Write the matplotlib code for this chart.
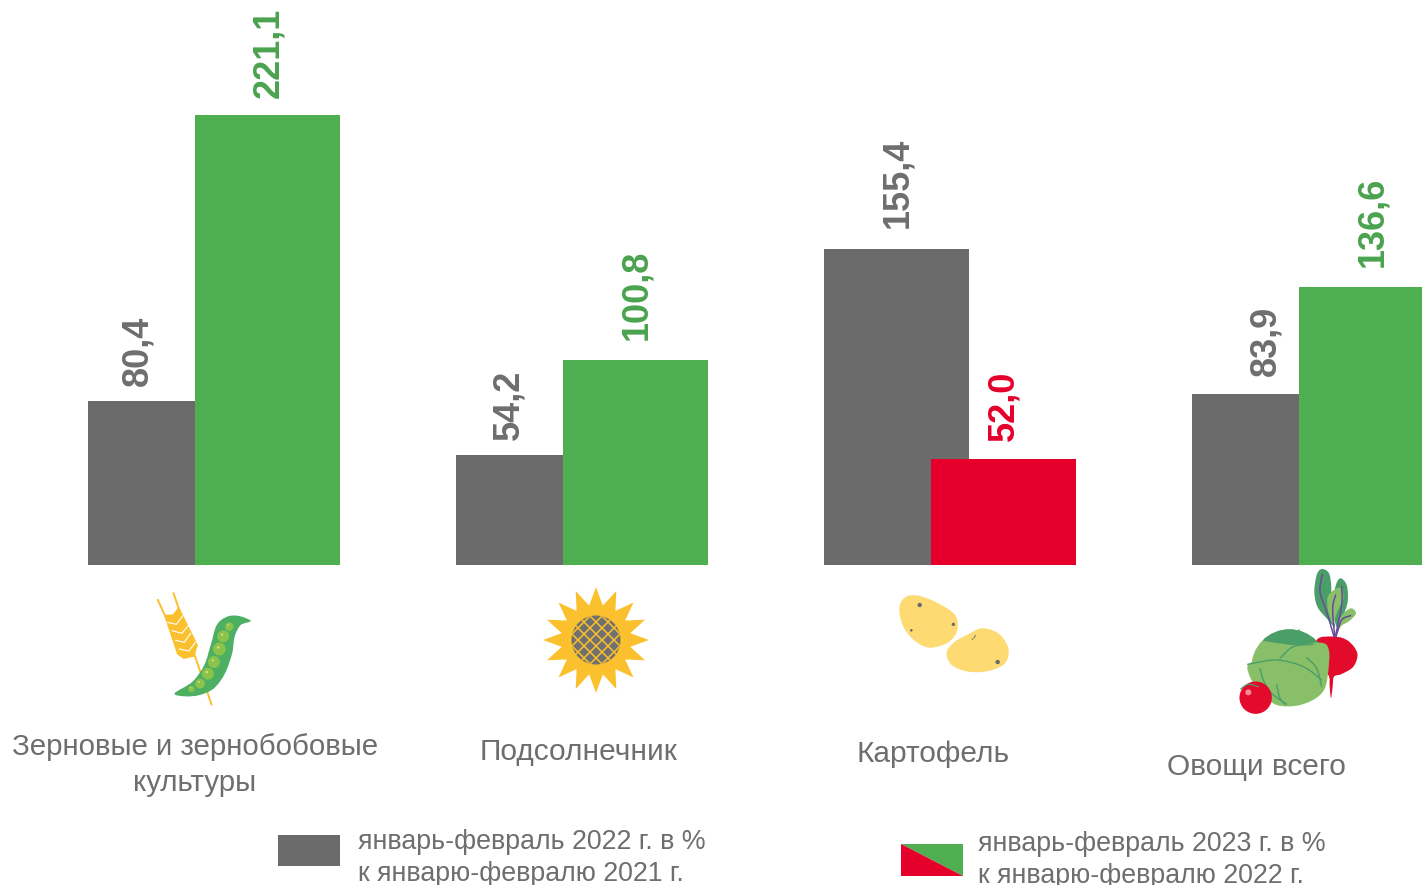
import numpy as np
import matplotlib
matplotlib.use("Agg")
import matplotlib.pyplot as plt
from matplotlib.path import Path
from matplotlib.patches import PathPatch, Circle, Ellipse, Polygon, Rectangle

# ============================================================
# 1. DATA
# ============================================================

categories = ["Зерновые и зернобобовые\nкультуры", "Подсолнечник", "Картофель", "Овощи всего"]
values_2022 = [80.4, 54.2, 155.4, 83.9]
values_2023 = [221.1, 100.8, 52.0, 136.6]
legend_2022 = "январь-февраль 2022 г. в %\nк январю-февралю 2021 г."
legend_2023 = "январь-февраль 2023 г. в %\nк январю-февралю 2022 г."

GRAY = "#6b6b6b"
GREEN = "#4faf50"
RED = "#e4002b"
TEXT_GRAY = "#6e6e6e"
TEXT_GREEN = "#4ba34e"
YELLOW = "#fbc02d"
LEAF = "#8abf6a"
LEAF_DARK = "#4a9f68"
PURPLE = "#6a4a9c"

W, H = 1422, 885
BASELINE = 565
PX_PER_UNIT = 2.035
PITCH = 368
BAR_W = 144.6 / PITCH
BAR_OFF = 107 / PITCH
FIRST_CENTER = 160.3

plt.rcParams["font.family"] = ["Liberation Sans", "DejaVu Sans"]

fig = plt.figure(figsize=(W / 100, H / 100), dpi=100)
fig.patch.set_facecolor("white")

# ============================================================
# 2. BARS
# ============================================================

ax = fig.add_axes([0, 1 - BASELINE / H, 1, BASELINE / H])
ax.set_xlim(-FIRST_CENTER / PITCH, (W - FIRST_CENTER) / PITCH)
ax.set_ylim(0, BASELINE / PX_PER_UNIT)
ax.axis("off")

x = np.arange(len(categories))
ax.bar(x, values_2022, width=BAR_W, color=GRAY, zorder=2)
colors_2023 = [GREEN if v >= 100 else RED for v in values_2023]
ax.bar(x + BAR_OFF, values_2023, width=BAR_W, color=colors_2023, zorder=3)

# подписи значений
gray_dx = [-22, -19, 1, 2]
gray_dy = [15, 15, 21, 18]
green_dy = [17, 20, 18, 20]
for i in x:
    ax.annotate(f"{values_2022[i]:.1f}".replace(".", ","), (i, values_2022[i]),
                xytext=(gray_dx[i], gray_dy[i]), textcoords="offset pixels",
                rotation=90, ha="center", va="bottom", fontsize=26,
                fontweight="bold", color=TEXT_GRAY, annotation_clip=False)
    ax.annotate(f"{values_2023[i]:.1f}".replace(".", ","), (i + BAR_OFF, values_2023[i]),
                xytext=(1, green_dy[i]), textcoords="offset pixels",
                rotation=90, ha="center", va="bottom", fontsize=26,
                fontweight="bold", color=colors_2023[i] if colors_2023[i] == RED else TEXT_GREEN,
                annotation_clip=False)

# ============================================================
# 3. OVERLAY (PIXEL COORDINATES): LABELS, LEGEND, ICONS
# ============================================================

ov = fig.add_axes([0, 0, 1, 1])
ov.set_xlim(0, W)
ov.set_ylim(H, 0)
ov.axis("off")
ov.patch.set_alpha(0)

label_pos = [(195, 765), (578, 752), (933, 754), (1256, 767)]
label_size = [21.2, 21.5, 21.5, 21.5]
for name, (lx, ly), fs in zip(categories, label_pos, label_size):
    ov.text(lx, ly, name, ha="center", va="center", fontsize=fs,
            color=TEXT_GRAY, linespacing=1.36)

ov.add_patch(Rectangle((278, 835), 62, 31, color=GRAY, lw=0))
ov.add_patch(Polygon([(901, 844), (963, 844), (963, 876)], color=GREEN, lw=0))
ov.add_patch(Polygon([(901, 844), (963, 876), (901, 876)], color=RED, lw=0))
for lx, ly, txt in [(358, 858, legend_2022), (978, 860, legend_2023)]:
    ov.text(lx, ly, txt, ha="left", va="center", fontsize=19.3,
            color=TEXT_GRAY, linespacing=1.27)


def blob(points, closed=True):
    # сглаженный контур через точки (Catmull-Rom -> Bezier)
    p = np.array(points, dtype=float)
    n = len(p)
    verts = [p[0]]
    codes = [Path.MOVETO]
    last = n if closed else n - 1
    for i in range(last):
        if closed:
            p0, p1, p2, p3 = p[(i - 1) % n], p[i], p[(i + 1) % n], p[(i + 2) % n]
        else:
            p0, p1, p2, p3 = p[max(i - 1, 0)], p[i], p[i + 1], p[min(i + 2, n - 1)]
        verts += [p1 + (p2 - p0) / 6, p2 - (p3 - p1) / 6, p2]
        codes += [Path.CURVE4] * 3
    return Path(verts, codes)


def z1(pts):
    return [(130 + a / 2.8, 565 + b / 3.0) for a, b in pts]


def z2(pts):
    return [(880 + a / 3.0, 565 + b / 3.0) for a, b in pts]


def fill(pts, color, z=5):
    patch = PathPatch(blob(pts), fc=color, ec="none", zorder=z)
    ov.add_patch(patch)
    return patch


def curve(pts, color, lw=1.0, z=6):
    ov.add_patch(PathPatch(blob(pts, closed=False), fc="none", ec=color, lw=lw, zorder=z,
                           capstyle="round"))


def dots(items, conv, color, z=7):
    for a, b, r in items:
        cx, cy = conv([(a, b)])[0]
        ov.add_patch(Circle((cx, cy), r, fc=color, ec="none", zorder=z))


# --- колос и стручок ---
ov.plot(*zip(*z1([(122, 85), (228, 418)])), color=YELLOW, lw=1.4, zorder=4)
ov.plot(*zip(*z1([(78, 105), (108, 175)])), color=YELLOW, lw=1.4, zorder=4)
ov.add_patch(Polygon(z1([(95, 150), (120, 148), (137, 125), (190, 240), (180, 275),
                         (150, 282), (132, 268)]), fc=YELLOW, ec="none", zorder=4))
for c in [[(105, 172), (130, 178), (148, 152)], [(118, 197), (145, 205), (165, 180)],
          [(128, 226), (152, 232), (170, 205)], [(138, 252), (165, 258), (183, 232)]]:
    ov.plot(*zip(*z1(c)), color="white", lw=0.8, zorder=5)

fill(z1([(125, 385), (175, 350), (208, 300), (226, 240), (243, 180), (272, 155), (305, 153),
         (338, 168), (310, 180), (293, 215), (286, 265), (266, 325), (235, 370), (195, 390),
         (155, 394)]), "#4caf62", 5)
peas = [(278, 185, 4.2), (261, 214, 6.0), (250, 252, 6.4), (235, 291, 6.0),
        (218, 326, 6.0), (196, 356, 4.9), (172, 372, 3.1)]
dots(peas, z1, "#8bc34a")
dots([(a - 3, b - 5, r * 0.2) for a, b, r in peas], z1, "#cfe08a", 8)

# --- подсолнух ---
cx, cy = 596, 640
n_rays = 16
ang = np.linspace(0, 2 * np.pi, 2 * n_rays, endpoint=False) - np.pi / 2
rad = np.where(np.arange(2 * n_rays) % 2 == 0, 53, 35)
ov.add_patch(Polygon(np.c_[cx + rad * np.cos(ang), cy + rad * np.sin(ang)],
                     fc=YELLOW, ec="none", zorder=5))
disk = Circle((cx, cy), 24.5, fc="#707070", ec="none", zorder=6)
ov.add_patch(disk)
for d in np.arange(-42, 43, 12):
    for sign in (1, -1):
        line, = ov.plot([cx + d - 30, cx + d + 30], [cy - sign * 30, cy + sign * 30],
                        color=YELLOW, lw=1.1, zorder=7)
        line.set_clip_path(disk)

# --- картофель ---
POTATO = "#fddb72"
fill(z2([(58, 130), (75, 97), (115, 92), (175, 115), (225, 150), (232, 195), (205, 232),
         (150, 248), (105, 228), (70, 185)]), POTATO)
fill(z2([(200, 262), (225, 230), (265, 208), (305, 190), (355, 205), (385, 250), (375, 295),
         (325, 318), (265, 320), (215, 300)]), POTATO)
dots([(119, 120, 2.2), (220, 178, 1.7), (94, 196, 1.3), (353, 291, 2.2)], z2, "#6b6b6b")
curve(z2([(286, 211), (283, 218)]), "#6b6b6b", 0.7, 7)
curve(z2([(280, 221), (276, 223)]), "#6b6b6b", 0.7, 7)

# --- овощи ---
fill(z2([(1365, 215), (1405, 228), (1432, 265), (1420, 305), (1385, 327), (1362, 335),
         (1358, 365), (1353, 400), (1349, 365), (1345, 330), (1310, 300), (1310, 225)]), "#e30b2b", 5)
fill(z2([(1325, 12), (1347, 25), (1354, 70), (1352, 130), (1365, 185), (1340, 160), (1312, 125),
         (1303, 80), (1310, 30)]), LEAF_DARK, 4)
fill(z2([(1380, 40), (1400, 60), (1403, 110), (1388, 155), (1370, 185), (1360, 130), (1365, 70)]),
     LEAF_DARK, 4)
fill(z2([(1380, 68), (1390, 100), (1372, 140), (1358, 175), (1343, 130), (1346, 90)]), LEAF, 5)
fill(z2([(1428, 145), (1408, 168), (1385, 182), (1370, 205), (1383, 155), (1412, 130)]), LEAF, 5)
for c in [[(1327, 28), (1320, 80), (1340, 140), (1362, 215)],
          [(1367, 90), (1358, 130), (1364, 215)],
          [(1385, 65), (1385, 120), (1366, 215)],
          [(1412, 152), (1385, 165), (1368, 215)]]:
    curve(z2(c), PURPLE, 1.1, 6)

cab = Circle((1228 / 3 + 880, 307 / 3 + 565), 38, fc=LEAF, ec="none", zorder=6)
ov.add_patch(cab)
top = Polygon(z2([(1150, 228), (1160, 170), (1330, 170), (1330, 240), (1230, 240)]),
              fc=LEAF_DARK, ec="none", zorder=7)
ov.add_patch(top)
top.set_clip_path(cab)
fill(z2([(1105, 298), (1160, 280), (1230, 250), (1338, 238), (1342, 340), (1320, 390), (1260, 420),
         (1190, 420), (1140, 380), (1112, 340)]), LEAF, 8)
for c in [[(1103, 298), (1190, 285), (1270, 305), (1325, 345)],
          [(1200, 280), (1240, 245), (1300, 238)],
          [(1240, 240), (1245, 210), (1258, 195)],
          [(1280, 278), (1310, 310), (1325, 365)],
          [(1140, 310), (1152, 350), (1175, 385), (1220, 418)],
          [(1190, 360), (1200, 400), (1215, 418)]]:
    curve(z2(c), LEAF_DARK, 1.0, 9)

tx, ty = z2([(1127, 398)])[0]
ov.add_patch(Circle((tx, ty), 16.2, fc="#e30b2b", ec="none", zorder=10))
hx, hy = z2([(1105, 382)])[0]
ov.add_patch(Ellipse((hx, hy), 6, 6, fc="#f38a96", ec="none", zorder=11))
curve(z2([(1082, 372), (1105, 358), (1135, 365)]), LEAF_DARK, 0.9, 11)

fig.savefig("out.png", dpi=100)
